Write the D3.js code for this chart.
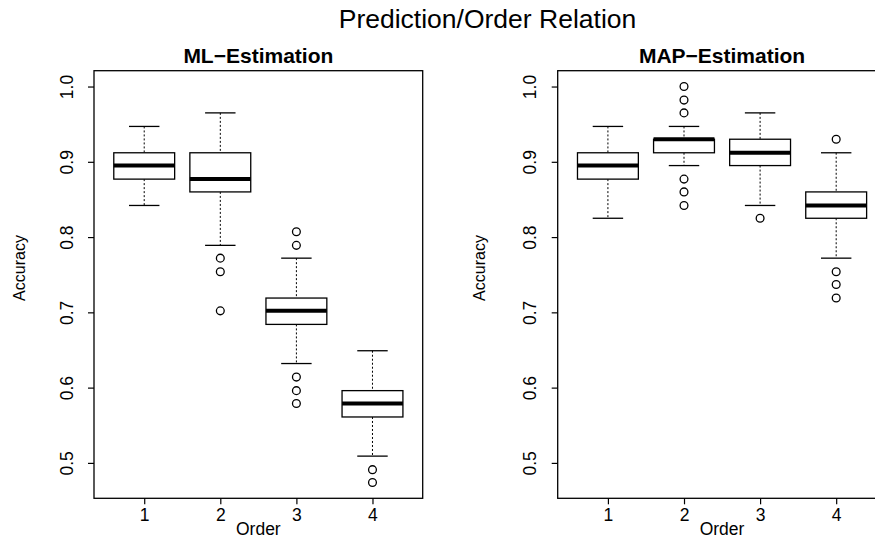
<!DOCTYPE html>
<html>
<head>
<meta charset="utf-8">
<script src="https://cdn.jsdelivr.net/npm/d3@7"></script>
<style>
  html, body { margin: 0; padding: 0; background: #fff; }
  svg { display: block; font-family: "Liberation Sans", Arial, Helvetica, sans-serif; }
</style>
</head>
<body>
<svg id="chart" width="875" height="539"></svg>
<script>
// ---- data ----
const orders = [1, 2, 3, 4];
const yTicks = [0.5, 0.6, 0.7, 0.8, 0.9, 1.0];
const mainTitle = "Prediction/Order Relation";
const panelTitles = ["ML\u2212Estimation", "MAP\u2212Estimation"];
const xLabel = "Order";
const yLabel = "Accuracy";

// ML-Estimation box statistics per order
const mlLowerWhisker = [0.842, 0.789, 0.632, 0.509];
const mlQ1           = [0.877, 0.860, 0.684, 0.561];
const mlMedian       = [0.895, 0.877, 0.702, 0.579];
const mlQ3           = [0.912, 0.912, 0.719, 0.596];
const mlUpperWhisker = [0.947, 0.965, 0.772, 0.649];
const mlOutliers     = [[], [0.772, 0.754, 0.702], [0.807, 0.789, 0.614, 0.596, 0.579], [0.491, 0.474]];

// MAP-Estimation box statistics per order
const mapLowerWhisker = [0.825, 0.895, 0.842, 0.772];
const mapQ1           = [0.877, 0.912, 0.895, 0.825];
const mapMedian       = [0.895, 0.930, 0.912, 0.842];
const mapQ3           = [0.912, 0.930, 0.930, 0.860];
const mapUpperWhisker = [0.947, 0.947, 0.965, 0.912];
const mapOutliers     = [[], [1.0, 0.982, 0.965, 0.877, 0.860, 0.842], [0.825], [0.930, 0.754, 0.737, 0.719]];

// ---- layout ----
const svg = d3.select("#chart");
const plotTop = 70.7, plotBottom = 498.3, plotW = 328.7;
const panelLefts = [94, 557.7];
const ylabOffsets = [69, 72.5];

// R-style extended ranges
const allVals = [].concat(mlLowerWhisker, mlUpperWhisker, mapLowerWhisker, mapUpperWhisker,
  mlOutliers.flat(), mapOutliers.flat());
const ymin = d3.min(allVals), ymax = d3.max(allVals);
const ypad = (ymax - ymin) * 0.04;
const y = d3.scaleLinear().domain([ymin - ypad, ymax + ypad]).range([plotBottom, plotTop]);

svg.append("text")
  .attr("x", 487.5).attr("y", 28)
  .attr("text-anchor", "middle")
  .attr("font-size", 26.5)
  .text(mainTitle);

function panel(idx, lw, q1, med, q3, uw, outs) {
  const left = panelLefts[idx];
  const xpad = (orders.length) * 0.04;
  const x = d3.scaleLinear()
    .domain([0.5 - xpad, orders.length + 0.5 + xpad])
    .range([left, left + plotW]);
  const g = svg.append("g");
  const bw = (x(1.4) - x(0.6)) / 2;       // half box width (boxwex 0.8)
  const cw = bw / 2;                        // half staple width

  const data = orders.map((o, i) => ({o, lw: lw[i], q1: q1[i], med: med[i], q3: q3[i], uw: uw[i], outs: outs[i]}));

  const b = g.selectAll("g.box").data(data).join("g").attr("class", "box");
  // whiskers (dashed)
  b.append("line")
    .attr("x1", d => x(d.o)).attr("x2", d => x(d.o))
    .attr("y1", d => y(d.uw)).attr("y2", d => y(d.q3))
    .attr("stroke", "#000").attr("stroke-width", 1).attr("stroke-dasharray", "2,2");
  b.append("line")
    .attr("x1", d => x(d.o)).attr("x2", d => x(d.o))
    .attr("y1", d => y(d.q1)).attr("y2", d => y(d.lw))
    .attr("stroke", "#000").attr("stroke-width", 1).attr("stroke-dasharray", "2,2");
  // staples
  b.append("line")
    .attr("x1", d => x(d.o) - cw).attr("x2", d => x(d.o) + cw)
    .attr("y1", d => y(d.uw)).attr("y2", d => y(d.uw))
    .attr("stroke", "#000").attr("stroke-width", 1.3);
  b.append("line")
    .attr("x1", d => x(d.o) - cw).attr("x2", d => x(d.o) + cw)
    .attr("y1", d => y(d.lw)).attr("y2", d => y(d.lw))
    .attr("stroke", "#000").attr("stroke-width", 1.3);
  // box
  b.append("rect")
    .attr("x", d => x(d.o) - bw).attr("width", 2 * bw)
    .attr("y", d => y(d.q3)).attr("height", d => y(d.q1) - y(d.q3))
    .attr("fill", "#fff").attr("stroke", "#000").attr("stroke-width", 1.3);
  // median
  b.append("line")
    .attr("x1", d => x(d.o) - bw).attr("x2", d => x(d.o) + bw)
    .attr("y1", d => y(d.med)).attr("y2", d => y(d.med))
    .attr("stroke", "#000").attr("stroke-width", 4);
  // outliers
  b.selectAll("circle").data(d => d.outs.map(v => ({o: d.o, v}))).join("circle")
    .attr("cx", d => x(d.o)).attr("cy", d => y(d.v)).attr("r", 3.9)
    .attr("fill", "none").attr("stroke", "#000").attr("stroke-width", 1.3);

  // frame
  g.append("rect")
    .attr("x", left).attr("y", plotTop).attr("width", plotW).attr("height", plotBottom - plotTop)
    .attr("fill", "none").attr("stroke", "#000").attr("stroke-width", 1.3);

  // x axis
  const xa = g.append("g").attr("transform", `translate(0,${plotBottom})`)
    .call(d3.axisBottom(x).tickValues(orders).tickFormat(d3.format("d")).tickSize(6));
  xa.select(".domain").remove();
  xa.selectAll(".tick line").attr("stroke", "#000").attr("stroke-width", 1.2);
  xa.selectAll(".tick text").attr("y", 22.5).attr("dy", 0)
    .attr("font-size", 17.5).attr("font-family", "Liberation Sans, Arial, sans-serif").attr("fill", "#000");

  // y axis
  const ya = g.append("g").attr("transform", `translate(${left},0)`)
    .call(d3.axisLeft(y).tickValues(yTicks).tickFormat(d3.format(".1f")).tickSize(6));
  ya.select(".domain").remove();
  ya.selectAll(".tick line").attr("stroke", "#000").attr("stroke-width", 1.2);
  ya.selectAll(".tick text")
    .attr("x", null).attr("dy", 0)
    .attr("transform", "translate(-21.5,0) rotate(-90)")
    .attr("text-anchor", "middle")
    .attr("font-size", 17.5).attr("font-family", "Liberation Sans, Arial, sans-serif").attr("fill", "#000");

  // panel title
  g.append("text")
    .attr("x", left + plotW / 2).attr("y", 62.5)
    .attr("text-anchor", "middle").attr("font-weight", "bold").attr("font-size", 21)
    .text(panelTitles[idx]);
  // axis labels
  g.append("text")
    .attr("x", left + plotW / 2).attr("y", 535)
    .attr("text-anchor", "middle").attr("font-size", 17.5)
    .text(xLabel);
  g.append("text")
    .attr("transform", `translate(${left - ylabOffsets[idx]},268) rotate(-90)`)
    .attr("text-anchor", "middle").attr("font-size", 16)
    .text(yLabel);
}

panel(0, mlLowerWhisker, mlQ1, mlMedian, mlQ3, mlUpperWhisker, mlOutliers);
panel(1, mapLowerWhisker, mapQ1, mapMedian, mapQ3, mapUpperWhisker, mapOutliers);
</script>
</body>
</html>
